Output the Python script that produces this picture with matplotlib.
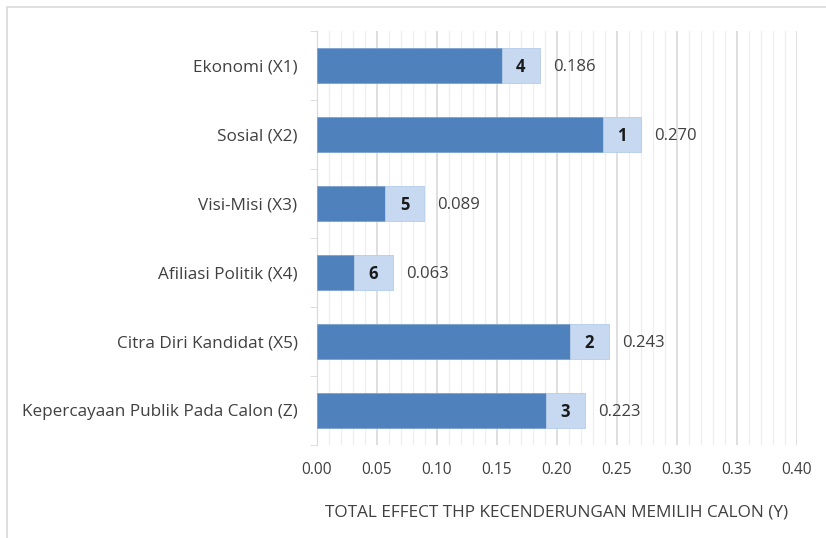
import numpy as np
import matplotlib.pyplot as plt
from matplotlib.patches import Rectangle
from matplotlib.ticker import MultipleLocator

# data
categories = ["Ekonomi (X1)", "Sosial (X2)", "Visi-Misi (X3)", "Afiliasi Politik (X4)",
              "Citra Diri Kandidat (X5)", "Kepercayaan Publik Pada Calon (Z)"]
total_effect = [0.186, 0.270, 0.089, 0.063, 0.243, 0.223]
ranks = [4, 1, 5, 6, 2, 3]

LABEL_W = 0.032  # width of the light rank box at the bar end
DARK = "#4F81BD"
LIGHT = "#C6D9F1"
TEXT = "#404040"

plt.rcParams['font.family'] = ['Open Sans', 'DejaVu Sans']

fig = plt.figure(figsize=(8.26, 5.38), dpi=100)
ax = fig.add_axes([317/826, 1 - 445/538, 480/826, 414/538])

# outer frame
fig.patches.append(Rectangle((7/826, -0.1), 1.2, 1 - 7/538 + 0.1, transform=fig.transFigure,
                             fill=False, edgecolor="#D9D9D9", linewidth=1.2))

y = np.arange(len(categories))
base = [t - LABEL_W for t in total_effect]
ax.barh(y, base, height=0.5, color=DARK, edgecolor="#7BA0CF", linewidth=0.6, zorder=3)
ax.barh(y, LABEL_W, left=base, height=0.5, color=LIGHT, edgecolor="#B4CBE8",
        linewidth=0.6, zorder=3)

for yi, b, t, r in zip(y, base, total_effect, ranks):
    ax.text(b + LABEL_W / 2, yi + 0.02, str(r), ha="center", va="center", fontsize=12,
            fontweight="bold", color="#1a1a1a", zorder=4)
    ax.text(t + 0.011, yi + 0.02, "{:.3f}".format(t), ha="left", va="center", fontsize=12,
            color=TEXT, zorder=4)

ax.set_xlim(0, 0.40)
ax.set_ylim(len(categories) - 0.5, -0.5)
ax.set_yticks(y)
ax.set_yticklabels(categories, fontsize=12.3, color=TEXT)
ax.set_yticks(np.arange(len(categories) + 1) - 0.5, minor=True)
ax.xaxis.set_major_locator(MultipleLocator(0.05))
ax.xaxis.set_minor_locator(MultipleLocator(0.01))
ax.set_xticklabels(["{:.2f}".format(v) for v in ax.get_xticks()], fontsize=11.2, color=TEXT)

ax.grid(which="major", axis="x", color="#D9D9D9", linewidth=1.2, zorder=0)
ax.grid(which="minor", axis="x", color="#EEEEEE", linewidth=0.9, zorder=0)

ax.tick_params(axis="y", which="major", length=0, pad=14)
ax.tick_params(axis="y", which="minor", length=5, color="#D9D9D9")
ax.tick_params(axis="x", which="both", length=0, pad=12)

for s in ["top", "right", "bottom"]:
    ax.spines[s].set_visible(False)
ax.spines["left"].set_color("#D9D9D9")

ax.set_xlabel("TOTAL EFFECT THP KECENDERUNGAN MEMILIH CALON (Y)", fontsize=12.4,
              color=TEXT, labelpad=19)

fig.savefig("out.png", dpi=100)
